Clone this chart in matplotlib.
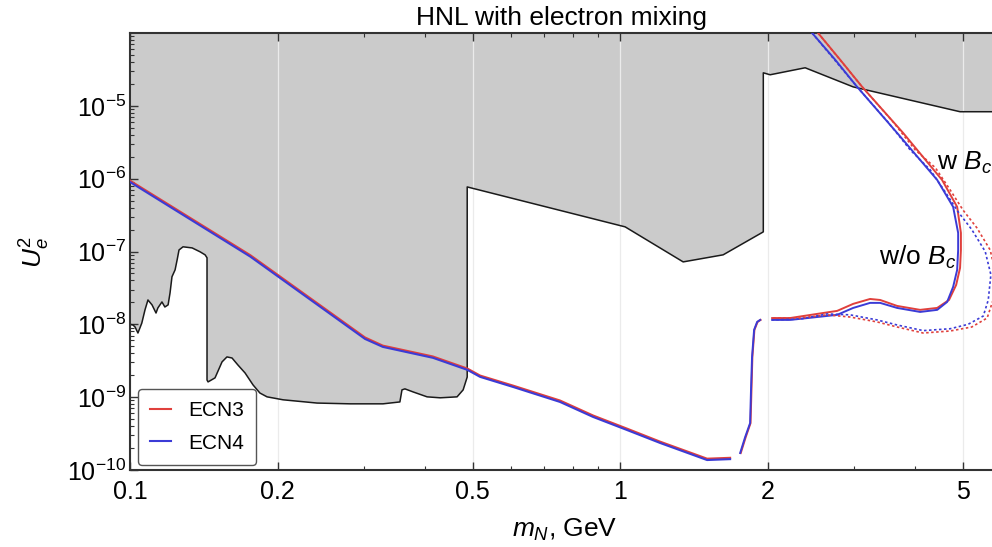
import matplotlib
matplotlib.use("Agg")
import matplotlib.pyplot as plt
import numpy as np
from matplotlib.ticker import LogLocator, NullFormatter

plt.rcParams["font.family"] = ["Liberation Sans", "DejaVu Sans"]
plt.rcParams["mathtext.fontset"] = "custom"
plt.rcParams["mathtext.rm"] = "Liberation Sans"
plt.rcParams["mathtext.it"] = "Liberation Sans:italic"
plt.rcParams["mathtext.bf"] = "Liberation Sans:bold"

# --- excluded region boundary (grey area lies above it) ---
bound_mass = [0.100, 0.1014, 0.1024, 0.1038, 0.1057, 0.1073, 0.1088, 0.1109, 0.1130,
              0.1140, 0.1162, 0.1178, 0.1196, 0.1207, 0.1218, 0.1236, 0.1248, 0.1259,
              0.1283, 0.1339, 0.1390, 0.1423, 0.1436, 0.1436, 0.1443, 0.1491, 0.1541,
              0.1577, 0.1615, 0.1660, 0.1717, 0.1783, 0.1841, 0.1904, 0.2053, 0.2408,
              0.2812, 0.3283, 0.3554, 0.3589, 0.3639, 0.3782, 0.4039, 0.4295, 0.4649,
              0.4784, 0.4876, 0.4876, 1.024, 1.345, 1.623, 1.96, 1.96, 2.024, 2.386,
              2.990, 4.94, 6.0]
bound_u2 = [1.0e-8, 9.8e-9, 9.2e-9, 7.6e-9, 1.04e-8, 1.58e-8, 2.16e-8, 1.85e-8, 1.43e-8,
            1.68e-8, 2.03e-8, 1.73e-8, 1.85e-8, 2.7e-8, 4.5e-8, 5.6e-8, 7.7e-8, 1.05e-7,
            1.16e-7, 1.12e-7, 9.9e-8, 9.0e-8, 8.2e-8, 1.72e-9, 1.62e-9, 1.84e-9, 3.05e-9,
            3.57e-9, 3.45e-9, 2.77e-9, 2.15e-9, 1.47e-9, 1.14e-9, 1.01e-9, 9.2e-10, 8.3e-10,
            8.1e-10, 8.1e-10, 8.6e-10, 1.26e-9, 1.30e-9, 1.18e-9, 1.01e-9, 9.8e-10, 1.01e-9,
            1.26e-9, 1.89e-9, 7.7e-7, 2.18e-7, 7.2e-8, 9.0e-8, 1.86e-7, 2.84e-5, 2.67e-5,
            3.33e-5, 1.82e-5, 8.3e-6, 8.3e-6]

# --- sensitivity curves: low-mass branch ---
low_mass = [0.1, 0.176, 0.3017, 0.328, 0.415, 0.488, 0.518, 0.605, 0.754, 0.881,
            1.033, 1.207, 1.409, 1.505, 1.677]
ecn4_low = [9.0e-7, 8.5e-8, 6.3e-9, 4.9e-9, 3.47e-9, 2.37e-9, 1.9e-9, 1.38e-9, 8.6e-10,
            5.35e-10, 3.54e-10, 2.35e-10, 1.61e-10, 1.37e-10, 1.41e-10]
ecn3_low = [9.4e-7, 8.9e-8, 6.6e-9, 5.1e-9, 3.62e-9, 2.47e-9, 1.98e-9, 1.44e-9, 9.0e-10,
            5.6e-10, 3.7e-10, 2.45e-10, 1.68e-10, 1.43e-10, 1.47e-10]

# --- rise near the D threshold ---
rise_mass_4 = [1.758, 1.80, 1.842, 1.85, 1.859, 1.877, 1.904, 1.931]
rise_mass_3 = [1.763, 1.805, 1.846, 1.854, 1.862, 1.880, 1.908, 1.935]
rise_u2 = [1.71e-10, 2.84e-10, 4.4e-10, 1.26e-9, 3.56e-9, 8.4e-9, 1.08e-8, 1.15e-8]

# --- B-meson region, without B_c ---
loop_mass_4 = [2.043, 2.223, 2.523, 2.773, 2.99, 3.237, 3.394, 3.675, 4.095, 4.437,
               4.649, 4.782, 4.873, 4.896, 4.896, 4.782, 4.437, 3.675, 3.046, 2.747, 2.465]
loop_u2_4 = [1.15e-8, 1.15e-8, 1.26e-8, 1.35e-8, 1.68e-8, 1.97e-8, 1.97e-8, 1.68e-8,
             1.48e-8, 1.58e-8, 2.03e-8, 3.27e-8, 5.58e-8, 1.05e-7, 1.8e-7, 4.1e-7,
             9.6e-7, 4.25e-6, 1.82e-5, 4.3e-5, 1.0e-4]
loop_mass_3 = [2.043, 2.223, 2.523, 2.773, 2.99, 3.237, 3.394, 3.675, 4.095, 4.437,
               4.69, 4.85, 4.94, 4.96, 4.96, 4.873, 4.54, 3.78, 3.119, 2.812, 2.535]
loop_u2_3 = [1.22e-8, 1.22e-8, 1.39e-8, 1.53e-8, 1.91e-8, 2.23e-8, 2.16e-8, 1.79e-8,
             1.58e-8, 1.68e-8, 2.16e-8, 3.47e-8, 5.95e-8, 1.05e-7, 1.8e-7, 4.1e-7,
             9.6e-7, 4.25e-6, 1.82e-5, 4.3e-5, 1.0e-4]

# --- B-meson region, with B_c (dotted) ---
wbc_mass_3 = [2.535, 3.119, 3.607, 4.0, 4.40, 4.716, 5.01, 5.35, 5.69, 5.85, 5.77, 5.61,
              5.22, 4.716, 4.154, 3.675, 3.344, 2.947, 2.645, 2.33, 2.043]
wbc_u2_3 = [1.0e-4, 1.82e-5, 6.0e-6, 2.49e-6, 1.41e-6, 7.0e-7, 3.7e-7, 2.1e-7, 1.05e-7,
            4.8e-8, 2.16e-8, 1.22e-8, 9.2e-9, 8.1e-9, 7.6e-9, 9.2e-9, 1.08e-8, 1.26e-8,
            1.35e-8, 1.22e-8, 1.22e-8]
wbc_mass_4 = [2.465, 3.046, 3.52, 3.907, 4.294, 4.606, 4.896, 5.22, 5.56, 5.71, 5.64, 5.51,
              5.13, 4.716, 4.154, 3.675, 3.344, 2.947, 2.645, 2.33, 2.043]
wbc_u2_4 = [1.0e-4, 1.82e-5, 6.0e-6, 2.49e-6, 1.32e-6, 6.6e-7, 3.5e-7, 2.0e-7, 1.0e-7,
            4.8e-8, 2.16e-8, 1.3e-8, 1.0e-8, 8.7e-9, 8.2e-9, 9.8e-9, 1.15e-8, 1.35e-8,
            1.39e-8, 1.18e-8, 1.15e-8]

xtick_vals = [0.1, 0.2, 0.5, 1, 2, 5]
xtick_labels = ["0.1", "0.2", "0.5", "1", "2", "5"]
ytick_vals = [1e-10, 1e-9, 1e-8, 1e-7, 1e-6, 1e-5]

RED = "#e0403c"
BLUE = "#3b3bd6"

fig = plt.figure(figsize=(9.92, 5.47), dpi=100)
ax = fig.add_axes([130 / 992, 1 - 470 / 547, 862 / 992, 437 / 547])
ax.set_xscale("log")
ax.set_yscale("log")
ax.set_xlim(0.1, 5.74)
ax.set_ylim(1e-10, 1e-4)

ax.fill_between(bound_mass, bound_u2, 1.0, color="#cbcbcb", lw=0, zorder=1)
ax.plot(bound_mass, bound_u2, color="#1a1a1a", lw=1.1, zorder=2)

l3, = ax.plot(low_mass, ecn3_low, color=RED, lw=1.5, zorder=3, label="ECN3")
l4, = ax.plot(low_mass, ecn4_low, color=BLUE, lw=1.5, zorder=3, label="ECN4")
ax.plot(rise_mass_3, rise_u2, color=RED, lw=1.4, zorder=3)
ax.plot(rise_mass_4, rise_u2, color=BLUE, lw=1.4, zorder=3)
ax.plot(loop_mass_3, loop_u2_3, color=RED, lw=1.4, zorder=3)
ax.plot(loop_mass_4, loop_u2_4, color=BLUE, lw=1.4, zorder=3)
ax.plot(wbc_mass_3, wbc_u2_3, color=RED, lw=1.2, ls=(0, (1.5, 1.5)), zorder=3)
ax.plot(wbc_mass_4, wbc_u2_4, color=BLUE, lw=1.2, ls=(0, (1.5, 1.5)), zorder=3)

ax.grid(axis="x", which="major", color="#ebebeb", lw=0.9)

ax.set_xticks(xtick_vals, labels=xtick_labels)
ax.xaxis.set_minor_locator(LogLocator(base=10, subs=np.arange(2, 10)))
ax.xaxis.set_minor_formatter(NullFormatter())
ax.set_yticks(ytick_vals)
ax.yaxis.set_minor_locator(LogLocator(base=10, subs=np.arange(2, 10), numticks=50))
ax.yaxis.set_minor_formatter(NullFormatter())
ax.tick_params(which="both", direction="in", top=True, right=False, color="#333333")
ax.tick_params(which="major", length=6, width=1.0, labelsize=18)
ax.tick_params(axis="x", which="major", pad=7)
ax.tick_params(axis="y", which="major", pad=3)
ax.tick_params(which="minor", length=3, width=0.8)
for side in ["left", "bottom", "top"]:
    ax.spines[side].set_color("#333333")
    ax.spines[side].set_linewidth(1.5)
ax.spines["right"].set_visible(False)

ax.text(4.85, 8.4e-8, r"w/o $B_c$", ha="right", va="center", fontsize=19)
ax.text(4.44, 1.65e-6, r"w $B_c$", ha="left", va="center", fontsize=19)

leg = ax.legend(handles=[l3, l4], loc="lower left", bbox_to_anchor=(0.009, 0.011),
                borderaxespad=0, fontsize=15, handlelength=1.0, frameon=True,
                fancybox=True, framealpha=1, edgecolor="#555555",
                borderpad=0.6, labelspacing=0.65)

fig.text(561 / 992, 1 - 18 / 547, "HNL with electron mixing", ha="center", va="center",
         fontsize=19)
fig.text(35 / 992, 1 - 252 / 547, r"$U_e^2$", rotation=90, ha="center", va="center",
         fontsize=19)
fig.text(565 / 992, 1 - 530 / 547, r"$m_N$, GeV", ha="center", va="center", fontsize=19)

fig.savefig("out.png", dpi=100)
